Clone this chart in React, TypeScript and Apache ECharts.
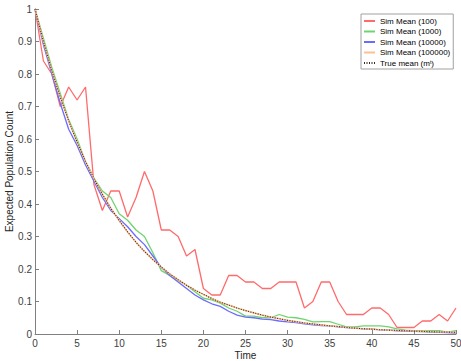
import React, { useEffect, useRef } from "react";
import * as echarts from "echarts";

const times = Array.from({ length: 51 }, (_, i) => i);

const sim100 = [1, 0.84, 0.8, 0.7, 0.76, 0.72, 0.76, 0.46, 0.38, 0.44, 0.44, 0.36, 0.42, 0.5, 0.44, 0.32, 0.32, 0.3, 0.24, 0.26, 0.14, 0.12, 0.12, 0.18, 0.18, 0.16, 0.16, 0.14, 0.14, 0.16, 0.16, 0.16, 0.08, 0.1, 0.16, 0.16, 0.1, 0.06, 0.06, 0.06, 0.08, 0.08, 0.06, 0.02, 0.02, 0.02, 0.04, 0.04, 0.06, 0.04, 0.08];

const sim1000 = [1, 0.91, 0.82, 0.74, 0.66, 0.6, 0.53, 0.48, 0.44, 0.42, 0.37, 0.35, 0.32, 0.3, 0.25, 0.195, 0.18, 0.165, 0.15, 0.13, 0.11, 0.105, 0.095, 0.08, 0.07, 0.055, 0.055, 0.05, 0.05, 0.06, 0.052, 0.05, 0.045, 0.037, 0.038, 0.038, 0.03, 0.022, 0.022, 0.025, 0.025, 0.025, 0.022, 0.016, 0.012, 0.01, 0.01, 0.01, 0.01, 0.006, 0.01];

const sim10000 = [1, 0.89, 0.8, 0.71, 0.63, 0.58, 0.52, 0.47, 0.42, 0.38, 0.355, 0.33, 0.3, 0.275, 0.24, 0.205, 0.18, 0.16, 0.14, 0.12, 0.105, 0.093, 0.085, 0.07, 0.058, 0.052, 0.05, 0.046, 0.044, 0.04, 0.037, 0.035, 0.031, 0.028, 0.026, 0.025, 0.022, 0.02, 0.018, 0.016, 0.015, 0.013, 0.012, 0.01, 0.009, 0.008, 0.007, 0.006, 0.005, 0.004, 0.003];

const sim100000 = [1, 0.9, 0.81, 0.729, 0.656, 0.59, 0.531, 0.478, 0.43, 0.387, 0.349, 0.314, 0.282, 0.254, 0.229, 0.206, 0.185, 0.167, 0.15, 0.135, 0.122, 0.109, 0.098, 0.089, 0.08, 0.072, 0.065, 0.058, 0.052, 0.047, 0.042, 0.038, 0.034, 0.031, 0.028, 0.025, 0.023, 0.02, 0.018, 0.016, 0.015, 0.013, 0.012, 0.011, 0.01, 0.009, 0.008, 0.007, 0.006, 0.006, 0.005];

const trueMean = [1, 0.9, 0.81, 0.729, 0.656, 0.59, 0.531, 0.478, 0.43, 0.387, 0.349, 0.314, 0.282, 0.254, 0.229, 0.206, 0.185, 0.167, 0.15, 0.135, 0.122, 0.109, 0.098, 0.089, 0.08, 0.072, 0.065, 0.058, 0.052, 0.047, 0.042, 0.038, 0.034, 0.031, 0.028, 0.025, 0.023, 0.02, 0.018, 0.016, 0.015, 0.013, 0.012, 0.011, 0.01, 0.009, 0.008, 0.007, 0.006, 0.006, 0.005];

const seriesNames = ["Sim Mean (100)", "Sim Mean (1000)", "Sim Mean (10000)", "Sim Mean (100000)", "True mean (m^t)"];

export default function App() {
  const ref = useRef<HTMLDivElement>(null);
  useEffect(() => {
    if (!ref.current) return;
    const chart = echarts.init(ref.current, null, { renderer: "svg" });
    const font = "Liberation Sans, Arial, sans-serif";
    const mk = (name: string, data: number[], color: string, type: any = "solid", width = 1.3) => ({
      name,
      type: "line",
      data: times.map((t, i) => [t, data[i]]),
      showSymbol: false,
      symbol: "none",
      lineStyle: { color, width, type },
      itemStyle: { color },
      z: 2,
    });
    chart.setOption({
      animation: false,
      grid: { left: 35, right: 5, top: 9, bottom: 27, outerBoundsMode: "none", containLabel: false },
      legend: {
        orient: "vertical",
        left: 361,
        top: 14,
        width: 84,
        padding: [3, 3, 2, 2],
        itemGap: 2.5,
        itemWidth: 11,
        itemHeight: 8,
        backgroundColor: "#ffffff",
        borderColor: "#a0a0a0",
        borderWidth: 1,
        borderRadius: 0,
        itemStyle: { opacity: 0 },
        data: seriesNames,
        formatter: (n: string) => (n === "True mean (m^t)" ? "True mean (m{s|t})" : n),
        textStyle: {
          fontFamily: font,
          fontSize: 8,
          color: "#000",
          rich: { s: { fontSize: 5, verticalAlign: "top", fontFamily: font, color: "#000" } },
        },
      },
      xAxis: {
        type: "value",
        min: 0,
        max: 50,
        interval: 5,
        name: "Time",
        nameLocation: "middle",
        nameGap: 16,
        nameMoveOverlap: false,
        nameTextStyle: { fontFamily: font, fontSize: 10, color: "#262626" },
        axisLine: { lineStyle: { color: "#808080", width: 1 } },
        axisTick: { inside: true, length: 4, lineStyle: { color: "#808080" } },
        axisLabel: { fontFamily: font, fontSize: 10, color: "#404040", margin: 4 },
        splitLine: { show: false },
      },
      yAxis: {
        type: "value",
        min: 0,
        max: 1,
        interval: 0.1,
        name: "Expected Population Count",
        nameLocation: "middle",
        nameGap: 21,
        nameMoveOverlap: false,
        nameTextStyle: { fontFamily: font, fontSize: 10, color: "#262626" },
        axisLine: { show: true, lineStyle: { color: "#808080", width: 1 } },
        axisTick: { show: true, inside: true, length: 4, lineStyle: { color: "#808080" } },
        axisLabel: {
          fontFamily: font,
          fontSize: 10,
          color: "#404040",
          margin: 3,
          formatter: (v: number) => String(Math.round(v * 10) / 10),
        },
        splitLine: { show: false },
      },
      series: [
        mk(seriesNames[0], sim100, "#ff6b6b"),
        mk(seriesNames[1], sim1000, "#6fd46f"),
        mk(seriesNames[2], sim10000, "#6b6bff"),
        mk(seriesNames[3], sim100000, "#ffbf8f", "solid", 1.6),
        mk(seriesNames[4], trueMean, "#3a2a22", [1, 1.5], 1.1),
      ],
    });
    return () => chart.dispose();
  }, []);
  return <div ref={ref} style={{ width: 461, height: 361, position: "absolute", left: 0, top: 0 }} />;
}
